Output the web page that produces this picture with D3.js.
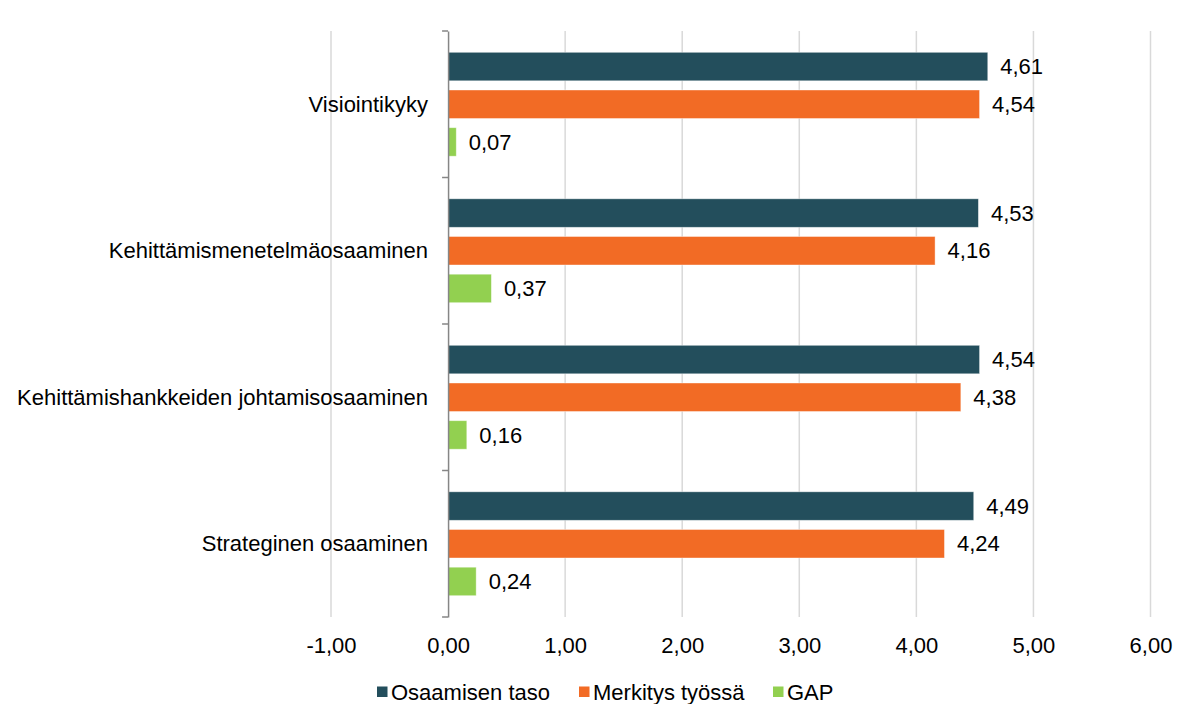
<!DOCTYPE html>
<html><head><meta charset="utf-8">
<script src="https://cdn.jsdelivr.net/npm/d3@7"></script>
<style>body{margin:0;background:#fff}svg{display:block}text{font-family:"Liberation Sans",Arial,sans-serif;fill:#000}</style>
</head><body>
<svg id="c" width="1184" height="704"></svg>
<script>
const categories = ["Visiointikyky","Kehittämismenetelmäosaaminen","Kehittämishankkeiden johtamisosaaminen","Strateginen osaaminen"];
const seriesNames = ["Osaamisen taso","Merkitys työssä","GAP"];
const osaamisenTaso = [4.61,4.53,4.54,4.49];
const merkitysTyossa = [4.54,4.16,4.38,4.24];
const gap = [0.07,0.37,0.16,0.24];
const xTicks = [-1,0,1,2,3,4,5,6];
const colors = ["#234E5C","#F26B25","#92D050"];

const seriesValues = [osaamisenTaso, merkitysTyossa, gap];
const svg = d3.select("#c");
const fmt = v => d3.format(".2f")(v).replace("\u2212","-").replace(".", ",");

const x = d3.scaleLinear().domain([-1,6]).range([331,1150.5]);
const y = d3.scaleBand().domain(categories).range([31,617]).padding(0);
const ys = d3.scaleBand().domain(seriesNames).range([0,y.bandwidth()]).paddingInner(0.244).paddingOuter(0.565);

// gridlines
svg.append("g").selectAll("line").data(xTicks.filter(t=>t!==0)).join("line")
  .attr("x1",d=>x(d)).attr("x2",d=>x(d)).attr("y1",31).attr("y2",617)
  .attr("stroke","#d9d9d9").attr("stroke-width",1.5);

// bars
const data = [];
categories.forEach((c,i)=>seriesNames.forEach((s,j)=>data.push({c,s,j,v:seriesValues[j][i]})));
svg.append("g").selectAll("rect").data(data).join("rect")
  .attr("x",x(0)).attr("y",d=>y(d.c)+ys(d.s))
  .attr("width",d=>x(d.v)-x(0)).attr("height",ys.bandwidth())
  .attr("fill",d=>colors[d.j]).attr("stroke","#ffffff").attr("stroke-opacity",0.5).attr("stroke-width",0.8);

// labels
svg.append("g").selectAll("text").data(data).join("text")
  .attr("x",d=>x(d.v)+12.5).attr("y",d=>y(d.c)+ys(d.s)+ys.bandwidth()/2)
  .attr("dy","0.35em").attr("font-size",22).text(d=>fmt(d.v));

// y axis at 0
const yAxis = d3.axisLeft(y).tickSize(0).tickFormat("");
const ga = svg.append("g").attr("transform",`translate(${x(0)},0)`).call(yAxis);
ga.select(".domain").attr("stroke","#868686").attr("stroke-width",1.5);
const bounds = [...categories.map(c=>y(c)), 617];
svg.append("g").selectAll("line").data(bounds).join("line")
  .attr("x1",x(0)-6).attr("x2",x(0)).attr("y1",d=>d).attr("y2",d=>d)
  .attr("stroke","#868686").attr("stroke-width",1.5);
svg.append("g").selectAll("text").data(categories).join("text")
  .attr("x",428).attr("y",d=>y(d)+y.bandwidth()/2).attr("dy","0.35em")
  .attr("text-anchor","end").attr("font-size",22).text(d=>d);

// x tick labels
const xAxis = d3.axisBottom(x).tickValues(xTicks).tickSize(0).tickFormat(fmt);
const gx = svg.append("g").attr("transform","translate(0,634)").call(xAxis);
gx.select(".domain").remove();
gx.selectAll("text").attr("font-size",22).attr("font-family","Liberation Sans, Arial, sans-serif").attr("fill","#000");

// legend
const legX = [377,579,773];
const lg = svg.append("g").selectAll("g").data(seriesNames).join("g")
  .attr("transform",(d,i)=>`translate(${legX[i]},692)`);
lg.append("rect").attr("x",0).attr("y",-5.5).attr("width",10.5).attr("height",10.5).attr("fill",(d,i)=>colors[i]);
lg.append("text").attr("x",14).attr("dy","0.35em").attr("font-size",22).text(d=>d);
</script>
</body></html>
